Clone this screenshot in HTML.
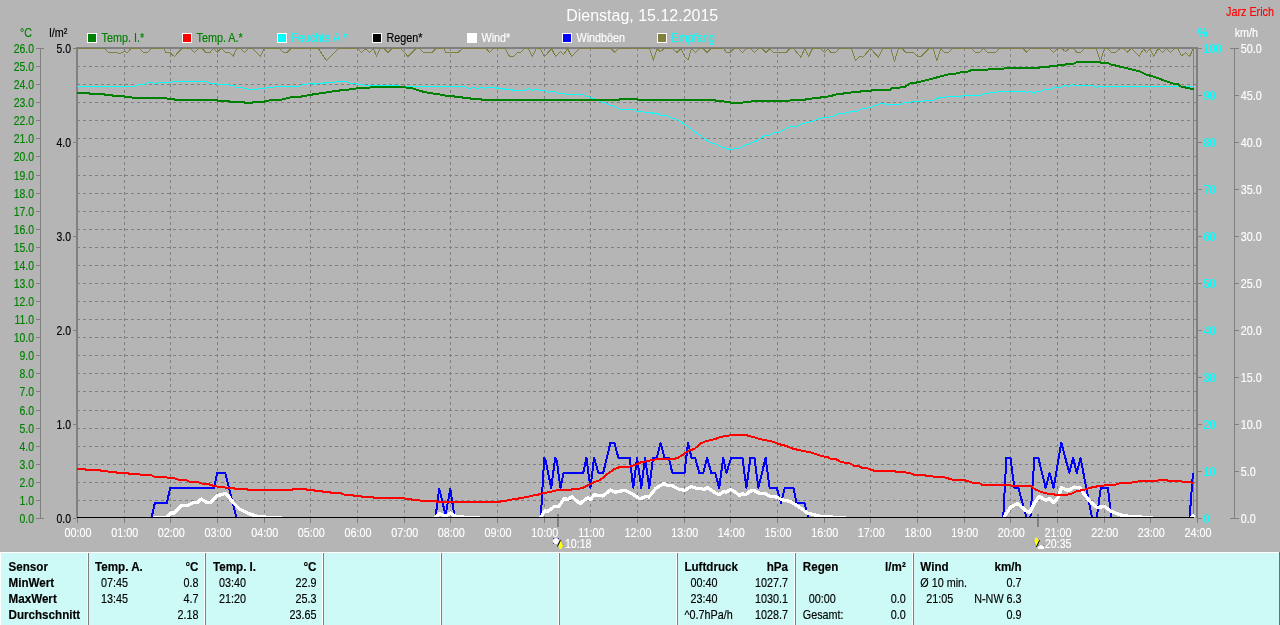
<!DOCTYPE html>
<html lang="de"><head><meta charset="utf-8"><title>Dienstag, 15.12.2015</title>
<style>html,body{margin:0;padding:0;background:#b5b5b5;overflow:hidden}body{width:1280px;height:625px;position:relative}svg{display:block;position:absolute;left:0;top:0}text{font-family:"Liberation Sans",sans-serif;font-size:12px;white-space:pre;fill:#000;stroke:#000;stroke-width:.15px}.g{fill:#008000;stroke:#008000}.r{fill:#ff0000;stroke:#ff0000}.c{fill:#00ffff;stroke:#00ffff}.w{fill:#fff;stroke:#fff}</style>
</head><body>
<svg width="1280" height="625" viewBox="0 0 1280 625">
<rect x="0" y="0" width="1280" height="625" fill="#b5b5b5"/>
<g shape-rendering="crispEdges" stroke="#808080" stroke-width="1" fill="none">
<path stroke-dasharray="3 3" d="M77 500.5H1193M77 482.5H1193M77 464.5H1193M77 446.5H1193M77 428.5H1193M77 410.5H1193M77 391.5H1193M77 373.5H1193M77 355.5H1193M77 337.5H1193M77 319.5H1193M77 301.5H1193M77 283.5H1193M77 265.5H1193M77 247.5H1193M77 229.5H1193M77 211.5H1193M77 193.5H1193M77 175.5H1193M77 156.5H1193M77 138.5H1193M77 120.5H1193M77 102.5H1193M77 84.5H1193M77 66.5H1193"/>
<path stroke-dasharray="3 3" d="M124.5 48V517M170.5 48V517M217.5 48V517M264.5 48V517M310.5 48V517M357.5 48V517M404.5 48V517M450.5 48V517M497.5 48V517M544.5 48V517M590.5 48V517M637.5 48V517M684.5 48V517M730.5 48V517M777.5 48V517M824.5 48V517M870.5 48V517M917.5 48V517M964.5 48V517M1010.5 48V517M1057.5 48V517M1104.5 48V517M1150.5 48V517"/>
</g>
<g shape-rendering="crispEdges">
<rect x="76" y="47" width="2" height="471" fill="#808080"/>
<rect x="76" y="47" width="1122" height="2" fill="#808080"/>
<rect x="1196" y="47" width="2" height="471" fill="#808080"/>
<rect x="1193" y="49" width="1" height="469" fill="#808080"/>
<rect x="1194" y="500" width="2" height="1" fill="#808080"/>
<rect x="1194" y="482" width="2" height="1" fill="#808080"/>
<rect x="1194" y="464" width="2" height="1" fill="#808080"/>
<rect x="1194" y="446" width="2" height="1" fill="#808080"/>
<rect x="1194" y="428" width="2" height="1" fill="#808080"/>
<rect x="1194" y="410" width="2" height="1" fill="#808080"/>
<rect x="1194" y="391" width="2" height="1" fill="#808080"/>
<rect x="1194" y="373" width="2" height="1" fill="#808080"/>
<rect x="1194" y="355" width="2" height="1" fill="#808080"/>
<rect x="1194" y="337" width="2" height="1" fill="#808080"/>
<rect x="1194" y="319" width="2" height="1" fill="#808080"/>
<rect x="1194" y="301" width="2" height="1" fill="#808080"/>
<rect x="1194" y="283" width="2" height="1" fill="#808080"/>
<rect x="1194" y="265" width="2" height="1" fill="#808080"/>
<rect x="1194" y="247" width="2" height="1" fill="#808080"/>
<rect x="1194" y="229" width="2" height="1" fill="#808080"/>
<rect x="1194" y="211" width="2" height="1" fill="#808080"/>
<rect x="1194" y="193" width="2" height="1" fill="#808080"/>
<rect x="1194" y="175" width="2" height="1" fill="#808080"/>
<rect x="1194" y="156" width="2" height="1" fill="#808080"/>
<rect x="1194" y="138" width="2" height="1" fill="#808080"/>
<rect x="1194" y="120" width="2" height="1" fill="#808080"/>
<rect x="1194" y="102" width="2" height="1" fill="#808080"/>
<rect x="1194" y="84" width="2" height="1" fill="#808080"/>
<rect x="1194" y="66" width="2" height="1" fill="#808080"/>
<rect x="40" y="48" width="1" height="471" fill="#808080"/>
<rect x="36" y="518" width="8" height="1" fill="#808080"/>
<rect x="36" y="500" width="4" height="1" fill="#808080"/>
<rect x="36" y="482" width="4" height="1" fill="#808080"/>
<rect x="36" y="464" width="4" height="1" fill="#808080"/>
<rect x="36" y="446" width="4" height="1" fill="#808080"/>
<rect x="36" y="428" width="4" height="1" fill="#808080"/>
<rect x="36" y="410" width="4" height="1" fill="#808080"/>
<rect x="36" y="391" width="4" height="1" fill="#808080"/>
<rect x="36" y="373" width="4" height="1" fill="#808080"/>
<rect x="36" y="355" width="4" height="1" fill="#808080"/>
<rect x="36" y="337" width="4" height="1" fill="#808080"/>
<rect x="36" y="319" width="4" height="1" fill="#808080"/>
<rect x="36" y="301" width="4" height="1" fill="#808080"/>
<rect x="36" y="283" width="4" height="1" fill="#808080"/>
<rect x="36" y="265" width="4" height="1" fill="#808080"/>
<rect x="36" y="247" width="4" height="1" fill="#808080"/>
<rect x="36" y="229" width="4" height="1" fill="#808080"/>
<rect x="36" y="211" width="4" height="1" fill="#808080"/>
<rect x="36" y="193" width="4" height="1" fill="#808080"/>
<rect x="36" y="175" width="4" height="1" fill="#808080"/>
<rect x="36" y="156" width="4" height="1" fill="#808080"/>
<rect x="36" y="138" width="4" height="1" fill="#808080"/>
<rect x="36" y="120" width="4" height="1" fill="#808080"/>
<rect x="36" y="102" width="4" height="1" fill="#808080"/>
<rect x="36" y="84" width="4" height="1" fill="#808080"/>
<rect x="36" y="66" width="4" height="1" fill="#808080"/>
<rect x="36" y="48" width="8" height="1" fill="#808080"/>
<rect x="73" y="518" width="3" height="1" fill="#808080"/>
<rect x="73" y="424" width="3" height="1" fill="#808080"/>
<rect x="73" y="330" width="3" height="1" fill="#808080"/>
<rect x="73" y="236" width="3" height="1" fill="#808080"/>
<rect x="73" y="142" width="3" height="1" fill="#808080"/>
<rect x="73" y="48" width="3" height="1" fill="#808080"/>
<rect x="1198" y="518" width="4" height="1" fill="#808080"/>
<rect x="1198" y="471" width="4" height="1" fill="#808080"/>
<rect x="1198" y="424" width="4" height="1" fill="#808080"/>
<rect x="1198" y="377" width="4" height="1" fill="#808080"/>
<rect x="1198" y="330" width="4" height="1" fill="#808080"/>
<rect x="1198" y="283" width="4" height="1" fill="#808080"/>
<rect x="1198" y="236" width="4" height="1" fill="#808080"/>
<rect x="1198" y="189" width="4" height="1" fill="#808080"/>
<rect x="1198" y="142" width="4" height="1" fill="#808080"/>
<rect x="1198" y="95" width="4" height="1" fill="#808080"/>
<rect x="1198" y="48" width="4" height="1" fill="#808080"/>
<rect x="1234" y="48" width="1" height="471" fill="#808080"/>
<rect x="1230" y="518" width="9" height="1" fill="#808080"/>
<rect x="1234" y="471" width="5" height="1" fill="#808080"/>
<rect x="1234" y="424" width="5" height="1" fill="#808080"/>
<rect x="1234" y="377" width="5" height="1" fill="#808080"/>
<rect x="1234" y="330" width="5" height="1" fill="#808080"/>
<rect x="1234" y="283" width="5" height="1" fill="#808080"/>
<rect x="1234" y="236" width="5" height="1" fill="#808080"/>
<rect x="1234" y="189" width="5" height="1" fill="#808080"/>
<rect x="1234" y="142" width="5" height="1" fill="#808080"/>
<rect x="1234" y="95" width="5" height="1" fill="#808080"/>
<rect x="1230" y="48" width="9" height="1" fill="#808080"/>
<rect x="77" y="518" width="1" height="5" fill="#808080"/>
<rect x="124" y="518" width="1" height="5" fill="#808080"/>
<rect x="170" y="518" width="1" height="5" fill="#808080"/>
<rect x="217" y="518" width="1" height="5" fill="#808080"/>
<rect x="264" y="518" width="1" height="5" fill="#808080"/>
<rect x="310" y="518" width="1" height="5" fill="#808080"/>
<rect x="357" y="518" width="1" height="5" fill="#808080"/>
<rect x="404" y="518" width="1" height="5" fill="#808080"/>
<rect x="450" y="518" width="1" height="5" fill="#808080"/>
<rect x="497" y="518" width="1" height="5" fill="#808080"/>
<rect x="544" y="518" width="1" height="5" fill="#808080"/>
<rect x="590" y="518" width="1" height="5" fill="#808080"/>
<rect x="637" y="518" width="1" height="5" fill="#808080"/>
<rect x="684" y="518" width="1" height="5" fill="#808080"/>
<rect x="730" y="518" width="1" height="5" fill="#808080"/>
<rect x="777" y="518" width="1" height="5" fill="#808080"/>
<rect x="824" y="518" width="1" height="5" fill="#808080"/>
<rect x="870" y="518" width="1" height="5" fill="#808080"/>
<rect x="917" y="518" width="1" height="5" fill="#808080"/>
<rect x="964" y="518" width="1" height="5" fill="#808080"/>
<rect x="1010" y="518" width="1" height="5" fill="#808080"/>
<rect x="1057" y="518" width="1" height="5" fill="#808080"/>
<rect x="1104" y="518" width="1" height="5" fill="#808080"/>
<rect x="1150" y="518" width="1" height="5" fill="#808080"/>
<rect x="1197" y="518" width="1" height="5" fill="#808080"/>
<rect x="557" y="514" width="2" height="13" fill="#808080"/>
<rect x="1037" y="514" width="2" height="13" fill="#808080"/>
</g>
<clipPath id="pc"><rect x="77" y="48" width="1118" height="470"/></clipPath>
<g fill="none" stroke-linejoin="round" stroke-linecap="butt" clip-path="url(#pc)" shape-rendering="crispEdges">
<polyline stroke="#808040" stroke-width="1" points="77,48.5 104.4,48.5 108.4,52.5 116.4,52.5 120,53.6 124.4,51.2 127.6,52.5 130.8,48.5 139.6,48.5 143.6,52.5 147.6,52.5 151.6,48.5 163.6,48.5 166,52.5 170,52.5 174.3,56.5 182,48.5 190.8,48.5 194.5,52.5 198.8,48.5 202,48.5 206,52.5 210,52.5 213.2,48.5 217.2,52.5 221.2,48.5 225.2,52.5 229.2,52.5 233.2,56.5 236.4,48.8 240.4,48.5 244.4,52.5 248.4,48.5 252.4,48.5 260.4,56.5 264.4,48.5 279.2,48.5 283.7,52.5 287.2,52.5 291.2,48.5 318.4,48.5 326.4,60.5 338.4,48.5 357.6,48.5 361.6,52.5 365.6,48.8 369.6,52.5 373.6,48.8 376.5,56.5 380,48.5 384,48.5 388,52.5 392,48.5 400.8,48.5 408,56.5 416,48.5 419.2,48.5 423.2,52.5 432,52.5 436,48.5 444,48.5 445.6,52.5 458,52.5 462.5,48.5 486,48.5 489.7,52.5 493.5,48.5 505.2,48.5 509.5,56.5 513.7,56.5 517.2,52.5 520.4,52.5 524.4,48.5 528.4,48.5 532.4,56.5 536.4,48.5 540.4,48.5 544.4,56.5 551.6,48.8 555.6,56.5 560.4,51.5 563.6,54.4 567.6,48.8 571.6,56.5 579.6,48.5 610.8,48.5 614.8,52.5 618.8,48.5 649.6,48.5 653.4,60.2 657.3,48.6 660.2,52 664,48.6 672.6,48.6 676.9,52.5 680.7,48.6 684.5,56.3 688,60.2 691.4,48.6 695.7,52.5 699.5,48.6 703.3,48.6 707.2,52.5 711,48.6 723.5,48.6 726.4,52.5 730.2,52.5 734.1,48.6 738.9,48.6 742.7,52.5 746.5,48.6 750.4,48.6 754.6,52.5 758.4,48.6 762.3,48.6 766.1,52.5 770,48.6 773.4,52.5 785.9,52.5 789.7,48.6 793.6,48.6 800.9,57.3 804.7,48.6 808.6,56.3 812.4,48.6 820.5,48.6 824.7,52.5 828.1,49.2 831,52.5 835.8,52.5 839.7,48.6 851.6,48.8 855.6,60.5 859.6,56.5 862.8,57.3 870.5,48.5 878.5,57.3 882.8,48.5 890.8,48.5 894.5,61.3 898.5,48.5 902,48.5 906,52.5 913.2,52.5 917.5,56.5 921.2,56.5 929.2,48.5 933.2,48.5 936.7,60.5 940.7,48.8 944.4,52.5 948.4,52.5 952.4,48.5 971.6,48.5 975.6,52.5 979.6,52.5 983.6,48.5 987.6,52.5 995.6,52.5 999.6,48.5 1022.8,48.5 1026.8,52.5 1030.8,48.5 1049.6,48.5 1053.6,52.5 1057.3,48.5 1061.6,48.5 1065.6,51.5 1069.6,48.5 1073.6,48.5 1076.8,52.5 1080.8,52.5 1084.8,48.5 1096,48.5 1100.5,61.3 1104.5,48.5 1108,48.5 1111.2,52.5 1115.2,52.5 1120,48.5 1123.2,48.5 1127.2,52.5 1131.2,48.5 1139.2,56.5 1143.7,48.5 1146.4,52.5 1150.1,48.8 1153.9,56.5 1158.1,48.5 1162.4,52.5 1166.4,48.5 1170.4,52.5 1174.4,48.5 1177.6,48.5 1181.6,55.7 1185.6,52.5 1189.6,56.5 1193.3,48.5"/>
<polyline stroke="#00ffff" stroke-width="1" points="77,86.5 135.6,86.5 138,84.5 145.2,84 149.2,82.4 152.4,82.4 155.6,84 158.8,82.7 170.8,82.4 173.2,81.3 206.8,81.3 210,83.2 215.6,83.2 217.2,84.3 227.6,84.3 230,85.6 234,85.6 237.2,87.5 242.8,87.5 247.6,89.3 257.2,89.3 258.8,88 264.8,88 266.4,87.5 272,87.5 274.4,86.5 299.2,86.5 302.4,84.8 307.2,84.5 308.8,83.5 312,83.5 313.6,84.5 316,83.2 324,83.2 325.6,82.4 335.2,82.4 336.8,81.6 346.4,81.6 349.6,83.2 355.2,83.5 357.6,84.3 363.2,84.5 365.6,85.6 398.4,85.6 399.2,86.5 464.4,86.5 469.2,88.3 473.2,87.5 478,88.3 481.2,87.5 484.4,88.3 487.6,87.5 495.6,87.5 497.2,88.5 503.6,88.5 505.2,89.4 511.6,89.4 513.2,90.4 524.4,90.4 528.4,88.3 532.4,90.4 534.8,89.3 538,89.3 539.6,90.4 545.2,90.4 548.4,92.3 551.6,91.2 554,91.2 558,93.1 565.2,93.3 566.8,94.4 582,94.4 586,96.3 588.4,96.3 591.6,98.4 594,98.4 599.6,100.8 602,102.4 604.4,102.4 608.4,104.3 610.8,105.6 613.2,105.6 621.2,109.6 634,109.6 637.2,111.5 642.9,111.5 644.8,112.6 651.5,112.6 654.4,113.9 658.2,113.9 661.1,115.4 665.9,115.4 672.6,118.3 675.5,118.7 679.4,120.6 693.8,131.2 712,143.7 715.8,143.7 719.7,146 726.4,148.5 730.2,149.4 737.9,148.5 744.6,145.6 755.2,141.7 760,138.9 764.8,135.4 769.6,135.4 773.4,132.7 777.3,132.7 791.7,126.4 796.5,126.4 803.2,123.5 807,122.9 812.8,121 822.4,117.4 829.1,117.4 839.7,113.5 844.5,113.5 851.2,111.5 856.4,111.5 862.8,108.8 866.8,108.5 870.8,107.2 881.2,103.5 883.6,103.5 886,104.5 899.6,104.5 905.2,102.4 910,102.4 911.6,101.6 922,101.6 924.4,100.5 931.6,100.5 939.6,97.6 945.2,97.6 946.8,96.5 961.2,96.5 962.8,95.5 980.4,95.5 986,93.3 989.2,93.3 990.8,92.3 997.2,92.3 998.8,91.5 1024.4,91.5 1026.8,92.5 1030,91.2 1034,93.3 1037.2,91.5 1041.2,91.5 1044.4,89.6 1050.4,89.3 1053.6,87.5 1060.8,87.5 1064.8,85.6 1066.4,85.6 1068.8,86.5 1072.8,84.5 1076,85.6 1093.6,85.6 1096.8,87.5 1099.2,86.5 1194,86.5"/>
<polyline stroke="#008000" stroke-width="2" points="77,92.8 89.2,92.8 90,94 104.4,94 105.2,95.2 112.4,95.2 113.2,96 124.4,96 125.2,96.8 131.6,97.1 132.4,98 166,98 167.6,98.9 174,99.2 175.6,100.2 217.2,100.2 218,101 229.2,101 230,101.8 244.4,101.8 245.2,102.9 252.4,102.9 253.2,101.8 264.4,101.8 265.2,101 272,100.2 282.4,99.5 288.8,97.6 300,96.8 311.2,94.7 324,92.8 335.2,90.9 346.4,89.9 356,88.5 365.6,88 377.6,86.7 403.2,86.7 405.6,87.5 411.2,88 420,90.9 428,92.8 439.2,94.4 447.2,96 454,96 454.8,96.8 462,97.1 462.8,97.9 470,97.9 470.8,98.9 481.2,99.2 482,100.2 618.8,100.2 619.6,99 637.2,99 638,100.2 714.9,100.1 715.8,101 722.5,101 724.5,101.8 729.3,101.8 731.2,102.8 742.7,102.8 743.7,101.8 750.4,101.8 752.3,101 788.8,101 790.7,100.1 804.1,100.1 806.1,99.1 811.8,98.6 813.7,97.6 820.5,97.6 822.4,96.6 828.1,96.6 829.1,95.7 832,95.7 832.9,94.7 835.8,94.7 836.8,93.8 843.5,93.8 844.5,92.8 850,92.8 852.4,92 859.6,92 861.2,90.9 870.8,90.9 871.6,89.9 890,89.9 891.6,88.5 896.4,88 905.2,86.7 910,83.5 917.2,82.4 933.2,78.4 949.2,74.1 955.6,73.6 962,72 968.4,71.5 970.8,70.4 979.6,70.4 981.2,69.6 987.6,69.6 989.2,68.8 1003.6,68.8 1005.2,68 1038.8,68 1040.4,66.9 1049.6,66.9 1050.4,65.6 1057.6,65.6 1058.4,64.8 1065.6,64.8 1066.4,63.7 1073.6,63.7 1077.6,61.6 1100,61.6 1100.8,62.9 1108,62.9 1110.4,64.3 1139.2,71.2 1146.4,74.7 1154.4,76.8 1166.4,81.3 1172.8,83.5 1177.6,84 1180.8,86.4 1189.6,88.5 1194.2,88.8"/>
<polyline stroke="#0000ff" stroke-width="2" points="151.6,517.5 154.8,503.3 166.8,503 170.3,487.9 214,487.9 217.2,472.9 225.2,472.9 236.4,517.5"/>
<polyline stroke="#0000ff" stroke-width="2" points="435.5,517.5 439.2,488.8 445.6,515 450.3,488.8 454.6,517.5"/>
<polyline stroke="#0000ff" stroke-width="2" points="540.8,517.5 544.2,457.8 545.6,460.4 551.2,487.9 555.2,457.8 556.8,461.2 560.5,487.9 563.5,472.9 583.2,472.9 586.4,457.8 590.4,487.9 594.1,457.8 598.4,472.9 603.2,472.9 610.4,442.8 614.4,442.8 618.4,457.8 629.6,457.8 633.3,487.9 637.1,457.8 641.3,487.9 645.1,457.8 649.3,487.9 653.1,457.8 656.8,457.8 660.5,442.8 664.5,457.8 668.8,457.8 672.3,472.9 684.5,472.9 688,442.8 691.5,457.8 695.2,457.8 699.2,472.9 703.2,472.9 707.2,457.8 711.2,472.9 715.2,472.9 719.2,487.9 723.2,457.8 726.4,472.9 731.2,457.8 742.4,457.8 746.4,487.9 750.4,457.8 754.4,457.8 758.4,487.9 765.6,457.8 769.6,487.9 776.8,487.9 781.1,503 784.8,487.9 793.5,487.9 796.4,503 804.4,503 808.4,517.5"/>
<polyline stroke="#0000ff" stroke-width="2" points="1003.2,517.5 1006.4,457.8 1010.4,457.8 1014.4,487.9 1018.4,487.9 1026.4,517.5 1030.4,517.5 1034.4,457.8 1038.4,457.8 1045.6,487.9 1049.6,472.9 1053.6,487.9 1061.3,442.8 1069.3,472.9 1073.1,457.8 1076.8,472.9 1080.5,457.8 1092,517.5 1096.8,517.5 1100.8,487.9 1108,487.9 1111.2,517.5"/>
<polyline stroke="#0000ff" stroke-width="2" points="1189.6,517.5 1193,472.9"/>
<polyline stroke="#fff" stroke-width="3.3" points="153.2,517.8 166,517.8 171.6,512.4 173.2,513.5 182,505.2 188.4,505.2 194,502.3 198,502.3 201.2,499.1 206,502 210,502.8 217.2,495.6 221.2,494.8 225.2,493.5 228.4,496.4 233.2,502.8 239.6,509.2 247.6,513.2 257.2,516.36 266.4,517.2 281.6,517.8"/>
<polyline stroke="#fff" stroke-width="3.3" points="435.5,517.5 439.2,513.5 445.6,516.36 450.4,512.9 454.4,515.95 464.8,517.3 480,517.8"/>
<polyline stroke="#fff" stroke-width="3.3" points="540.8,517.5 544.8,510.8 547.2,511.6 554.4,506.5 559.2,506 564,498.8 568,499.3 572,496.9 580,503.6 588,497.5 590.4,499.6 594.4,494.8 602.4,495.9 604,495.1 610.4,490.1 615.2,492.2 624.8,490.3 632,493.8 640,498.9 646.4,496.2 648.8,497 656,488.2 664,483.4 667.2,485.5 672,485.5 678.4,489 684.8,490.3 691.2,486.6 696,488.2 700.8,488.2 704,489.8 707.2,487.4 715.2,493 719.2,494.6 724,491.4 726.4,492.2 730.4,489.5 734.4,491.4 739.2,495.4 742.4,493.8 745.6,494.6 750.4,491.1 754.4,490.6 760,493.5 765.6,493.8 769.6,496.2 776,497 782.4,499.9 790.4,501.5 799.6,507.4 807.6,513 822,516.76 846,517.6"/>
<polyline stroke="#fff" stroke-width="3.3" points="1004,517.3 1010.4,507.4 1017.6,503.4 1024.8,509.8 1029.6,512.7 1034.4,503.4 1039.2,496.2 1045.6,500.2 1049.6,498.6 1053.6,502.6 1058.4,497 1061.6,487.4 1068,490.6 1074.4,487.1 1080,487.9 1084,493.8 1090.4,501.8 1096.8,507.4 1104.8,506.6 1111.2,511.4 1120.8,515 1132,516.76 1152.8,517.6"/>
<polyline stroke="#fff" stroke-width="3.3" points="1190.8,518.1 1194.2,514.45"/>
<polyline stroke="#ff0000" stroke-width="2" points="77,468.9 85.2,468.9 86,470 99.6,470 101.2,470.8 107.6,471.3 109.2,472.1 115.6,472.1 117.2,472.9 127.6,472.9 129.2,473.8 138.8,473.8 140.4,474.8 150.8,474.8 152.4,475.9 155.6,476.9 166,476.9 167.6,477.7 174,478 178.8,479.9 186.8,480.4 189.2,481.5 198,482 202.8,483.9 209.2,484.4 214,486 221.2,487.3 233.2,487.9 236.4,489.2 247.6,489.5 249.2,490.3 292,490.3 292.8,488.9 305.6,488.9 307.2,490 313.6,490 315.2,490.8 321.6,491.1 323.2,491.9 329.6,491.9 331.2,492.9 340.8,492.9 342.4,494 344.8,494.8 352.8,495.1 354.4,495.9 360.8,495.9 362.4,496.9 372.8,496.9 374.4,498 404,498 405.6,499 410.4,499 412,499.9 419.2,499.9 420.8,500.9 435.2,500.9 436.8,501.7 500,501.7 502.4,500.9 508.8,500.4 510.4,499.6 516,499.3 520,498 527.2,497.2 532,495.6 537.6,494.8 543.2,493.2 548,492.4 556,490.5 570.4,490 572,489.2 578.4,488.9 583.2,487.6 588,485.2 594.4,482 598.4,480.9 604,477.2 604.8,475.9 614.4,469 620,466.9 629.6,466.6 637.6,463.9 641.6,462.1 652.8,459.9 659.2,458.6 675.2,458.6 678.4,457.5 683.2,454.6 688.8,450.6 694.4,449 700.8,443.4 706.4,441 715.2,439.1 720.8,436.7 726.4,436.2 732,434.9 745.6,434.9 749.6,436.2 753.6,437 760,439.1 773.6,441.8 779.2,444.2 785.6,445.8 793.2,448.7 801.2,450.6 810.8,452.5 822,456.2 828.4,457 830,458.6 835.6,458.9 841.2,462.1 850.8,463.7 854,465.8 858.8,466.1 862,467.7 866.8,468.2 874.8,470.9 894,470.9 896.4,471.9 908.4,472.7 914.8,474.9 924.4,474.9 926.8,476.2 932.4,476.2 934.8,477 943.6,477 953.2,479.9 964.4,480.2 972.4,482.6 978.8,482.9 982,484.8 1009.6,485 1012,485.8 1030.4,485.8 1036,489.8 1044,493 1050.4,494.1 1058.4,494.9 1068,494.6 1072.8,493.3 1076,491.4 1084,489.8 1092,487.4 1100,485.8 1116,484.5 1120.8,482.9 1135.6,482.4 1140.4,480.8 1158.8,480.5 1160.4,479.5 1166,479.5 1167.6,480.8 1181.2,481.1 1183.6,482.1 1190,482.4 1194.2,482.9"/>
</g>
<rect x="77" y="517" width="1117" height="1" fill="#000" shape-rendering="crispEdges"/>
<text transform="matrix(0.87 0 0 1 34 522.5)" text-anchor="end" class="g">0.0</text>
<text transform="matrix(0.87 0 0 1 34 504.5)" text-anchor="end" class="g">1.0</text>
<text transform="matrix(0.87 0 0 1 34 486.5)" text-anchor="end" class="g">2.0</text>
<text transform="matrix(0.87 0 0 1 34 468.5)" text-anchor="end" class="g">3.0</text>
<text transform="matrix(0.87 0 0 1 34 450.5)" text-anchor="end" class="g">4.0</text>
<text transform="matrix(0.87 0 0 1 34 432.5)" text-anchor="end" class="g">5.0</text>
<text transform="matrix(0.87 0 0 1 34 414.5)" text-anchor="end" class="g">6.0</text>
<text transform="matrix(0.87 0 0 1 34 395.5)" text-anchor="end" class="g">7.0</text>
<text transform="matrix(0.87 0 0 1 34 377.5)" text-anchor="end" class="g">8.0</text>
<text transform="matrix(0.87 0 0 1 34 359.5)" text-anchor="end" class="g">9.0</text>
<text transform="matrix(0.87 0 0 1 34 341.5)" text-anchor="end" class="g">10.0</text>
<text transform="matrix(0.87 0 0 1 34 323.5)" text-anchor="end" class="g">11.0</text>
<text transform="matrix(0.87 0 0 1 34 305.5)" text-anchor="end" class="g">12.0</text>
<text transform="matrix(0.87 0 0 1 34 287.5)" text-anchor="end" class="g">13.0</text>
<text transform="matrix(0.87 0 0 1 34 269.5)" text-anchor="end" class="g">14.0</text>
<text transform="matrix(0.87 0 0 1 34 251.5)" text-anchor="end" class="g">15.0</text>
<text transform="matrix(0.87 0 0 1 34 233.5)" text-anchor="end" class="g">16.0</text>
<text transform="matrix(0.87 0 0 1 34 215.5)" text-anchor="end" class="g">17.0</text>
<text transform="matrix(0.87 0 0 1 34 197.5)" text-anchor="end" class="g">18.0</text>
<text transform="matrix(0.87 0 0 1 34 179.5)" text-anchor="end" class="g">19.0</text>
<text transform="matrix(0.87 0 0 1 34 160.5)" text-anchor="end" class="g">20.0</text>
<text transform="matrix(0.87 0 0 1 34 142.5)" text-anchor="end" class="g">21.0</text>
<text transform="matrix(0.87 0 0 1 34 124.5)" text-anchor="end" class="g">22.0</text>
<text transform="matrix(0.87 0 0 1 34 106.5)" text-anchor="end" class="g">23.0</text>
<text transform="matrix(0.87 0 0 1 34 88.5)" text-anchor="end" class="g">24.0</text>
<text transform="matrix(0.87 0 0 1 34 70.5)" text-anchor="end" class="g">25.0</text>
<text transform="matrix(0.87 0 0 1 34 52.5)" text-anchor="end" class="g">26.0</text>
<text transform="matrix(0.87 0 0 1 71 522.5)" text-anchor="end">0.0</text>
<text transform="matrix(0.87 0 0 1 71 428.5)" text-anchor="end">1.0</text>
<text transform="matrix(0.87 0 0 1 71 334.5)" text-anchor="end">2.0</text>
<text transform="matrix(0.87 0 0 1 71 240.5)" text-anchor="end">3.0</text>
<text transform="matrix(0.87 0 0 1 71 146.5)" text-anchor="end">4.0</text>
<text transform="matrix(0.87 0 0 1 71 52.5)" text-anchor="end">5.0</text>
<text transform="matrix(0.9 0 0 1 1203.5 522.5)" class="c">0</text>
<text transform="matrix(0.9 0 0 1 1240.7 522.5)" class="w">0.0</text>
<text transform="matrix(0.9 0 0 1 1203.5 475.5)" class="c">10</text>
<text transform="matrix(0.9 0 0 1 1240.7 475.5)" class="w">5.0</text>
<text transform="matrix(0.9 0 0 1 1203.5 428.5)" class="c">20</text>
<text transform="matrix(0.9 0 0 1 1240.7 428.5)" class="w">10.0</text>
<text transform="matrix(0.9 0 0 1 1203.5 381.5)" class="c">30</text>
<text transform="matrix(0.9 0 0 1 1240.7 381.5)" class="w">15.0</text>
<text transform="matrix(0.9 0 0 1 1203.5 334.5)" class="c">40</text>
<text transform="matrix(0.9 0 0 1 1240.7 334.5)" class="w">20.0</text>
<text transform="matrix(0.9 0 0 1 1203.5 287.5)" class="c">50</text>
<text transform="matrix(0.9 0 0 1 1240.7 287.5)" class="w">25.0</text>
<text transform="matrix(0.9 0 0 1 1203.5 240.5)" class="c">60</text>
<text transform="matrix(0.9 0 0 1 1240.7 240.5)" class="w">30.0</text>
<text transform="matrix(0.9 0 0 1 1203.5 193.5)" class="c">70</text>
<text transform="matrix(0.9 0 0 1 1240.7 193.5)" class="w">35.0</text>
<text transform="matrix(0.9 0 0 1 1203.5 146.5)" class="c">80</text>
<text transform="matrix(0.9 0 0 1 1240.7 146.5)" class="w">40.0</text>
<text transform="matrix(0.9 0 0 1 1203.5 99.5)" class="c">90</text>
<text transform="matrix(0.9 0 0 1 1240.7 99.5)" class="w">45.0</text>
<text transform="matrix(0.9 0 0 1 1203.5 52.5)" class="c">100</text>
<text transform="matrix(0.9 0 0 1 1240.7 52.5)" class="w">50.0</text>
<text transform="matrix(0.9 0 0 1 20 37)" class="g">°C</text>
<text transform="matrix(0.9 0 0 1 49.3 37)">l/m²</text>
<text transform="matrix(0.9 0 0 1 1197.8 37)" class="c">%</text>
<text transform="matrix(0.9 0 0 1 1234.7 37)" class="w">km/h</text>
<text transform="matrix(0.9 0 0 1 1226 16)" class="r">Jarz Erich</text>
<text transform="matrix(1 0 0 1 642.2 20.5)" text-anchor="middle" style="font-size:16px;stroke:none" class="w">Dienstag, 15.12.2015</text>
<text transform="matrix(0.9 0 0 1 78 537)" text-anchor="middle" class="w">00:00</text>
<text transform="matrix(0.9 0 0 1 124.67 537)" text-anchor="middle" class="w">01:00</text>
<text transform="matrix(0.9 0 0 1 171.33 537)" text-anchor="middle" class="w">02:00</text>
<text transform="matrix(0.9 0 0 1 218 537)" text-anchor="middle" class="w">03:00</text>
<text transform="matrix(0.9 0 0 1 264.67 537)" text-anchor="middle" class="w">04:00</text>
<text transform="matrix(0.9 0 0 1 311.33 537)" text-anchor="middle" class="w">05:00</text>
<text transform="matrix(0.9 0 0 1 358 537)" text-anchor="middle" class="w">06:00</text>
<text transform="matrix(0.9 0 0 1 404.67 537)" text-anchor="middle" class="w">07:00</text>
<text transform="matrix(0.9 0 0 1 451.33 537)" text-anchor="middle" class="w">08:00</text>
<text transform="matrix(0.9 0 0 1 498 537)" text-anchor="middle" class="w">09:00</text>
<text transform="matrix(0.9 0 0 1 544.67 537)" text-anchor="middle" class="w">10:00</text>
<text transform="matrix(0.9 0 0 1 591.33 537)" text-anchor="middle" class="w">11:00</text>
<text transform="matrix(0.9 0 0 1 638 537)" text-anchor="middle" class="w">12:00</text>
<text transform="matrix(0.9 0 0 1 684.67 537)" text-anchor="middle" class="w">13:00</text>
<text transform="matrix(0.9 0 0 1 731.33 537)" text-anchor="middle" class="w">14:00</text>
<text transform="matrix(0.9 0 0 1 778 537)" text-anchor="middle" class="w">15:00</text>
<text transform="matrix(0.9 0 0 1 824.67 537)" text-anchor="middle" class="w">16:00</text>
<text transform="matrix(0.9 0 0 1 871.33 537)" text-anchor="middle" class="w">17:00</text>
<text transform="matrix(0.9 0 0 1 918 537)" text-anchor="middle" class="w">18:00</text>
<text transform="matrix(0.9 0 0 1 964.67 537)" text-anchor="middle" class="w">19:00</text>
<text transform="matrix(0.9 0 0 1 1011.33 537)" text-anchor="middle" class="w">20:00</text>
<text transform="matrix(0.9 0 0 1 1058 537)" text-anchor="middle" class="w">21:00</text>
<text transform="matrix(0.9 0 0 1 1104.67 537)" text-anchor="middle" class="w">22:00</text>
<text transform="matrix(0.9 0 0 1 1151.33 537)" text-anchor="middle" class="w">23:00</text>
<text transform="matrix(0.9 0 0 1 1198 537)" text-anchor="middle" class="w">24:00</text>
<text transform="matrix(0.88 0 0 1 565 547.8)" class="w">10:18</text>
<text transform="matrix(0.88 0 0 1 1045 547.8)" class="w">20:35</text>
<rect x="87" y="33" width="10" height="10" fill="#fff" shape-rendering="crispEdges"/>
<rect x="88" y="34" width="8" height="8" fill="#008000" shape-rendering="crispEdges"/>
<text transform="matrix(0.9 0 0 1 101.5 42)" class="g">Temp. I.*</text>
<rect x="182" y="33" width="10" height="10" fill="#fff" shape-rendering="crispEdges"/>
<rect x="183" y="34" width="8" height="8" fill="#ff0000" shape-rendering="crispEdges"/>
<text transform="matrix(0.9 0 0 1 196.5 42)" class="g">Temp. A.*</text>
<rect x="277" y="33" width="10" height="10" fill="#fff" shape-rendering="crispEdges"/>
<rect x="278" y="34" width="8" height="8" fill="#00ffff" shape-rendering="crispEdges"/>
<text transform="matrix(0.9 0 0 1 291.5 42)" class="c">Feuchte A.*</text>
<rect x="372" y="33" width="10" height="10" fill="#fff" shape-rendering="crispEdges"/>
<rect x="373" y="34" width="8" height="8" fill="#000" shape-rendering="crispEdges"/>
<text transform="matrix(0.9 0 0 1 386.5 42)">Regen*</text>
<rect x="467" y="33" width="10" height="10" fill="#fff" shape-rendering="crispEdges"/>
<rect x="468" y="34" width="8" height="8" fill="#fff" shape-rendering="crispEdges"/>
<text transform="matrix(0.9 0 0 1 481.5 42)" class="w">Wind*</text>
<rect x="562" y="33" width="10" height="10" fill="#fff" shape-rendering="crispEdges"/>
<rect x="563" y="34" width="8" height="8" fill="#0000ff" shape-rendering="crispEdges"/>
<text transform="matrix(0.9 0 0 1 576.5 42)" class="w">Windböen</text>
<rect x="657" y="33" width="10" height="10" fill="#fff" shape-rendering="crispEdges"/>
<rect x="658" y="34" width="8" height="8" fill="#808040" shape-rendering="crispEdges"/>
<text transform="matrix(0.9 0 0 1 671.5 42)" class="c">Empfang</text>
<g>
<rect x="553" y="538" width="6" height="6" fill="#2020a0"/>
<circle cx="556" cy="541" r="3.1" fill="#fff"/>
<path d="M560.5 539.8L563.4 546.5H561.8V549H559.2V546.5H557.8Z" fill="#ffff00"/>
<path d="M560.6 539.8L557.4 546.6" stroke="#000" stroke-width="1" fill="none"/>
<path d="M561.2 540.6L563.8 546.4" stroke="#6a78d8" stroke-width=".8" stroke-dasharray="1 1" fill="none"/>
<path d="M1035.2 537.7H1037.8V540.2H1039.4L1036.4 546.8L1033.8 540.2H1035.2Z" fill="#ffff00"/>
<path d="M1039.6 540.2L1036.4 547" stroke="#000" stroke-width="1" fill="none"/>
<path d="M1033.6 540.4L1035.8 546" stroke="#6a78d8" stroke-width=".8" stroke-dasharray="1 1" fill="none"/>
<rect x="1038" y="545.2" width="6" height="1.4" fill="#2020a0"/>
<path d="M1037.9 549V547.4A3.1 2.5 0 0 1 1044.1 547.4V549Z" fill="#fff"/>
</g>
<rect x="0" y="553" width="1280" height="72" fill="#cdfaf6"/>
<rect x="0" y="552" width="1280" height="1" fill="#fff"/>
<rect x="0" y="552" width="1" height="73" fill="#fff"/>
<rect x="1279" y="552" width="1" height="73" fill="#707070"/>
<g shape-rendering="crispEdges">
<rect x="87" y="553" width="1" height="72" fill="#fff"/>
<rect x="88" y="553" width="1" height="72" fill="#808080"/>
<rect x="204" y="553" width="1" height="72" fill="#fff"/>
<rect x="205" y="553" width="1" height="72" fill="#808080"/>
<rect x="322" y="553" width="1" height="72" fill="#fff"/>
<rect x="323" y="553" width="1" height="72" fill="#808080"/>
<rect x="440" y="553" width="1" height="72" fill="#fff"/>
<rect x="441" y="553" width="1" height="72" fill="#808080"/>
<rect x="558" y="553" width="1" height="72" fill="#fff"/>
<rect x="559" y="553" width="1" height="72" fill="#808080"/>
<rect x="676" y="553" width="1" height="72" fill="#fff"/>
<rect x="677" y="553" width="1" height="72" fill="#808080"/>
<rect x="794" y="553" width="1" height="72" fill="#fff"/>
<rect x="795" y="553" width="1" height="72" fill="#808080"/>
<rect x="912" y="553" width="1" height="72" fill="#fff"/>
<rect x="913" y="553" width="1" height="72" fill="#808080"/>
</g>
<text transform="matrix(0.97 0 0 1 8.5 570.8)" font-weight="bold">Sensor</text>
<text transform="matrix(0.97 0 0 1 8.5 586.7)" font-weight="bold">MinWert</text>
<text transform="matrix(0.97 0 0 1 8.5 602.6)" font-weight="bold">MaxWert</text>
<text transform="matrix(0.97 0 0 1 8.5 618.5)" font-weight="bold">Durchschnitt</text>
<text transform="matrix(0.97 0 0 1 95 570.8)" font-weight="bold">Temp. A.</text>
<text transform="matrix(0.97 0 0 1 198.5 570.8)" text-anchor="end" font-weight="bold">°C</text>
<text transform="matrix(0.9 0 0 1 101 586.7)">07:45</text>
<text transform="matrix(0.9 0 0 1 198.5 586.7)" text-anchor="end">0.8</text>
<text transform="matrix(0.9 0 0 1 101 602.6)">13:45</text>
<text transform="matrix(0.9 0 0 1 198.5 602.6)" text-anchor="end">4.7</text>
<text transform="matrix(0.9 0 0 1 198.5 618.5)" text-anchor="end">2.18</text>
<text transform="matrix(0.97 0 0 1 213 570.8)" font-weight="bold">Temp. I.</text>
<text transform="matrix(0.97 0 0 1 316.5 570.8)" text-anchor="end" font-weight="bold">°C</text>
<text transform="matrix(0.9 0 0 1 219 586.7)">03:40</text>
<text transform="matrix(0.9 0 0 1 316.5 586.7)" text-anchor="end">22.9</text>
<text transform="matrix(0.9 0 0 1 219 602.6)">21:20</text>
<text transform="matrix(0.9 0 0 1 316.5 602.6)" text-anchor="end">25.3</text>
<text transform="matrix(0.9 0 0 1 316.5 618.5)" text-anchor="end">23.65</text>
<text transform="matrix(0.97 0 0 1 684.4 570.8)" font-weight="bold">Luftdruck</text>
<text transform="matrix(0.97 0 0 1 788 570.8)" text-anchor="end" font-weight="bold">hPa</text>
<text transform="matrix(0.9 0 0 1 690.4 586.7)">00:40</text>
<text transform="matrix(0.9 0 0 1 788 586.7)" text-anchor="end">1027.7</text>
<text transform="matrix(0.9 0 0 1 690.4 602.6)">23:40</text>
<text transform="matrix(0.9 0 0 1 788 602.6)" text-anchor="end">1030.1</text>
<text transform="matrix(0.9 0 0 1 684.4 618.5)">^0.7hPa/h</text>
<text transform="matrix(0.9 0 0 1 788 618.5)" text-anchor="end">1028.7</text>
<text transform="matrix(0.97 0 0 1 802.8 570.8)" font-weight="bold">Regen</text>
<text transform="matrix(0.97 0 0 1 905.8 570.8)" text-anchor="end" font-weight="bold">l/m²</text>
<text transform="matrix(0.9 0 0 1 808.8 602.6)">00:00</text>
<text transform="matrix(0.9 0 0 1 905.8 602.6)" text-anchor="end">0.0</text>
<text transform="matrix(0.9 0 0 1 802.8 618.5)">Gesamt:</text>
<text transform="matrix(0.9 0 0 1 905.8 618.5)" text-anchor="end">0.0</text>
<text transform="matrix(0.97 0 0 1 920.3 570.8)" font-weight="bold">Wind</text>
<text transform="matrix(0.97 0 0 1 1021.6 570.8)" text-anchor="end" font-weight="bold">km/h</text>
<text transform="matrix(0.9 0 0 1 920.3 586.7)">Ø 10 min.</text>
<text transform="matrix(0.9 0 0 1 1021.6 586.7)" text-anchor="end">0.7</text>
<text transform="matrix(0.9 0 0 1 926.3 602.6)">21:05</text>
<text transform="matrix(0.9 0 0 1 1021.6 602.6)" text-anchor="end">N-NW 6.3</text>
<text transform="matrix(0.9 0 0 1 1021.6 618.5)" text-anchor="end">0.9</text>
</svg>
</body></html>
